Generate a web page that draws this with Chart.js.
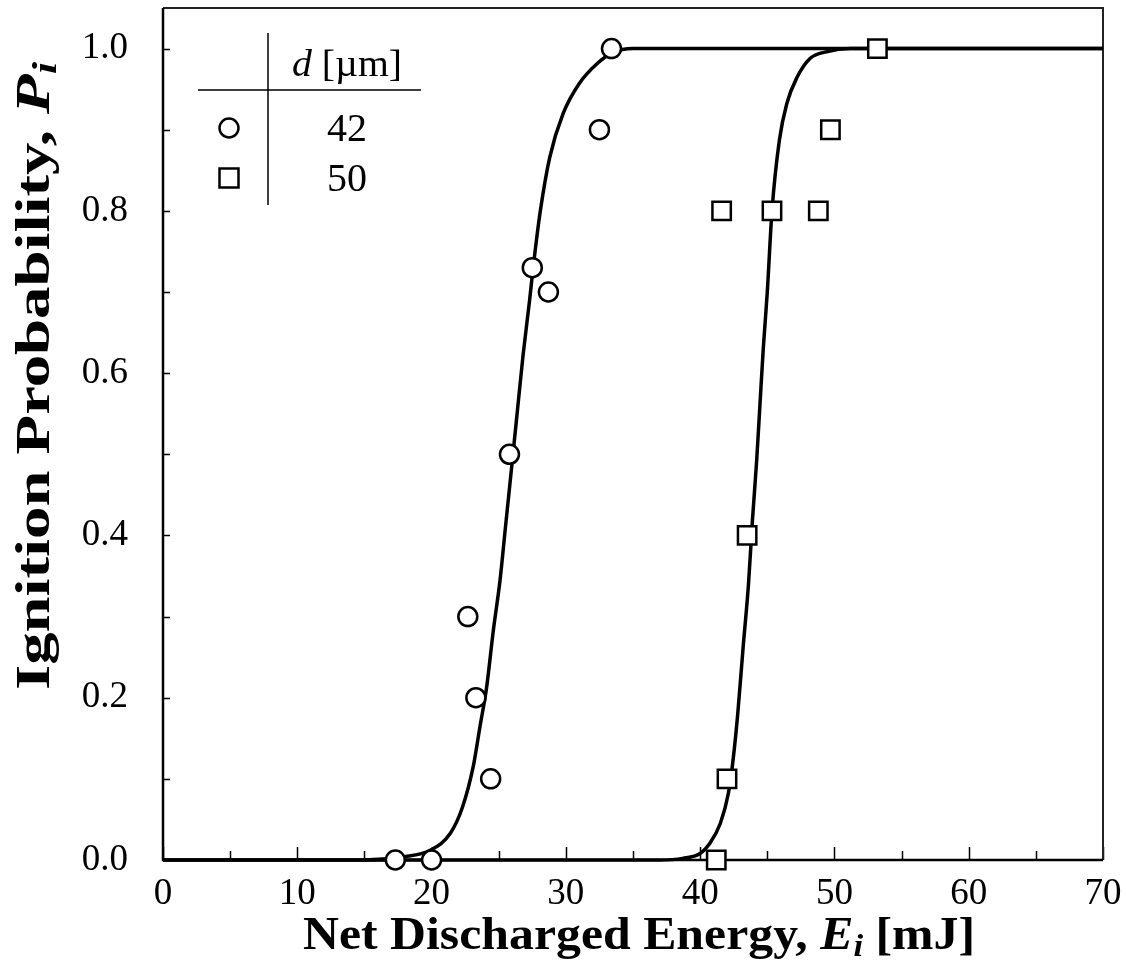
<!DOCTYPE html>
<html>
<head>
<meta charset="utf-8">
<script src="https://cdn.jsdelivr.net/npm/chart.js@4/dist/chart.umd.min.js"></script>
<style>
  html, body { margin: 0; padding: 0; background: #fff; }
  #wrap { width: 1126px; height: 964px; }
</style>
</head>
<body>
<div id="wrap"><canvas id="ignChart" width="1126" height="964"></canvas></div>
<script>
// ----- MEASURED POINTS -----
const e42 = [17.3, 20.0, 22.7, 23.3, 24.4, 25.8, 27.5, 28.7, 32.5, 33.4];
const p42 = [0, 0, 0.3, 0.2, 0.1, 0.5, 0.73, 0.7, 0.9, 1.0];

const e50 = [41.2, 42.0, 43.5, 41.6, 45.35, 48.8, 49.7, 53.2];
const p50 = [0, 0.1, 0.4, 0.8, 0.8, 0.8, 0.9, 1.0];

// ----- FITTED CURVES -----
const fitE42 = [0, 15, 17.9, 19.9, 21.4, 22.3, 23.1, 23.6, 24.1, 24.6, 25.1, 25.5, 26.0, 26.4, 26.8, 27.3, 27.6, 28.1, 28.8, 29.8, 31.0, 32.3, 33.5, 35, 70];
const fitP42 = [0, 0, 0.004, 0.012, 0.033, 0.065, 0.115, 0.164, 0.213, 0.283, 0.345, 0.41, 0.49, 0.555, 0.62, 0.69, 0.735, 0.80, 0.866, 0.92, 0.957, 0.981, 0.995, 1.0, 1.0];

const fitE50 = [0, 37, 38.7, 40.0, 40.7, 41.5, 42.1, 42.45, 42.8, 43.2, 43.6, 43.9, 44.2, 44.45, 44.7, 45.0, 45.35, 45.9, 46.45, 47.2, 48.2, 49.4, 51.2, 70];
const fitP50 = [0, 0, 0.002, 0.008, 0.02, 0.045, 0.082, 0.123, 0.18, 0.262, 0.34, 0.42, 0.49, 0.56, 0.63, 0.70, 0.80, 0.887, 0.932, 0.964, 0.988, 0.996, 1.0, 1.0];

// ----- LEGEND / AXIS TEXT -----
const legendHead = "d";
const legendUnit = " [\u00b5m]";
const legendRows = [
  { label: "42", shape: "circle" },
  { label: "50", shape: "rect" }
];

const SERIF = "'Liberation Serif', 'Times New Roman', serif";

function toXY(xs, ys) {
  return xs.map((x, i) => ({ x: x, y: ys[i] }));
}

// draws a run of text pieces with their own fonts, centred on (cx, cy);
// if width is given the run is stretched horizontally to that width
function drawRich(ctx, parts, cx, cy, width) {
  let total = 0;
  parts.forEach(p => {
    ctx.font = p.font;
    p.w = ctx.measureText(p.text).width;
    total += p.w;
  });
  const sx = width ? width / total : 1;
  ctx.save();
  ctx.translate(cx, cy);
  ctx.scale(sx, 1);
  let x = -total / 2;
  ctx.textBaseline = "alphabetic";
  ctx.textAlign = "left";
  parts.forEach(p => {
    ctx.font = p.font;
    ctx.fillText(p.text, x, p.dy || 0);
    x += p.w;
  });
  ctx.restore();
}

// ----- FRAME, INWARD TICKS, TITLES, TABLE LEGEND -----
const decorPlugin = {
  id: "decor",
  beforeDatasetsDraw(chart) {
    const ctx = chart.ctx;
    const area = chart.chartArea;
    const xs = chart.scales.x;
    const ys = chart.scales.y;

    ctx.save();
    ctx.strokeStyle = "#000";
    ctx.lineWidth = 1.5;

    ys.ticks.forEach(t => {
      const y = Math.round(ys.getPixelForValue(t.value)) + 0.5;
      ctx.beginPath();
      ctx.moveTo(area.left, y);
      ctx.lineTo(area.left + 7, y);
      ctx.stroke();
    });

    xs.ticks.forEach(t => {
      const x = Math.round(xs.getPixelForValue(t.value)) + 0.5;
      const len = t.value % 10 === 0 ? 13 : 9;
      ctx.beginPath();
      ctx.moveTo(x, area.bottom);
      ctx.lineTo(x, area.bottom - len);
      ctx.stroke();
    });

    // top and right border
    ctx.strokeStyle = "#222";
    ctx.lineWidth = 2;
    ctx.beginPath();
    ctx.moveTo(area.left, area.top);
    ctx.lineTo(area.right, area.top);
    ctx.lineTo(area.right, area.bottom);
    ctx.stroke();

    // left and bottom axis lines
    ctx.strokeStyle = "#000";
    ctx.lineWidth = 2.5;
    ctx.beginPath();
    ctx.moveTo(area.left, area.top);
    ctx.lineTo(area.left, area.bottom);
    ctx.lineTo(area.right, area.bottom);
    ctx.stroke();
    ctx.restore();
  },
  afterDraw(chart) {
    const ctx = chart.ctx;
    ctx.save();
    ctx.fillStyle = "#000";

    // x axis title
    drawRich(ctx, [
      { text: "Net Discharged Energy, ", font: "bold 46px " + SERIF },
      { text: "E", font: "italic bold 46px " + SERIF },
      { text: "i", font: "italic bold 32px " + SERIF, dy: 7 },
      { text: " [mJ]", font: "bold 46px " + SERIF }
    ], 639, 949, 672);

    // y axis title
    ctx.save();
    ctx.translate(49, 376);
    ctx.rotate(-Math.PI / 2);
    drawRich(ctx, [
      { text: "Ignition Probability, ", font: "bold 48px " + SERIF },
      { text: "P", font: "italic bold 48px " + SERIF },
      { text: "i", font: "italic bold 33px " + SERIF, dy: 7 }
    ], 0, 0, 628);
    ctx.restore();

    // table style legend
    ctx.strokeStyle = "#000";
    ctx.lineWidth = 1.5;
    ctx.beginPath();
    ctx.moveTo(268, 33);
    ctx.lineTo(268, 205);
    ctx.moveTo(198, 90);
    ctx.lineTo(421, 90);
    ctx.stroke();

    drawRich(ctx, [
      { text: legendHead, font: "italic 38px " + SERIF },
      { text: legendUnit, font: "38px " + SERIF }
    ], 347, 76, 110);

    ctx.lineWidth = 2.5;
    legendRows.forEach((row, i) => {
      const cy = 128 + i * 50;
      ctx.fillStyle = "#fff";
      ctx.beginPath();
      if (row.shape === "circle") {
        ctx.arc(229, cy, 9.5, 0, Math.PI * 2);
      } else {
        ctx.rect(219.5, cy - 9.5, 19, 19);
      }
      ctx.fill();
      ctx.stroke();
      ctx.fillStyle = "#000";
      drawRich(ctx, [{ text: row.label, font: "40px " + SERIF }], 347, cy + 13);
    });
    ctx.restore();
  }
};

const ctx = document.getElementById("ignChart").getContext("2d");

new Chart(ctx, {
  type: "scatter",
  data: {
    datasets: [
      {
        label: "42",
        data: toXY(e42, p42),
        pointStyle: "circle",
        pointRadius: 9.5,
        pointBackgroundColor: "#fff",
        pointBorderColor: "#000",
        pointBorderWidth: 2.5,
        order: 0,
        clip: false
      },
      {
        label: "50",
        data: toXY(e50, p50),
        pointStyle: "rect",
        pointRadius: 13,
        pointBackgroundColor: "#fff",
        pointBorderColor: "#000",
        pointBorderWidth: 2.5,
        order: 0,
        clip: false
      },
      {
        label: "fit 42",
        data: toXY(fitE42, fitP42),
        showLine: true,
        pointRadius: 0,
        borderColor: "#000",
        borderWidth: 3.5,
        cubicInterpolationMode: "monotone",
        order: 1,
        clip: false
      },
      {
        label: "fit 50",
        data: toXY(fitE50, fitP50),
        showLine: true,
        pointRadius: 0,
        borderColor: "#000",
        borderWidth: 3.5,
        cubicInterpolationMode: "monotone",
        order: 1,
        clip: false
      }
    ]
  },
  options: {
    responsive: false,
    animation: false,
    layout: { autoPadding: false, padding: { top: 8, right: 23, left: 0, bottom: 0 } },
    plugins: {
      legend: { display: false },
      tooltip: { enabled: false }
    },
    scales: {
      x: {
        type: "linear",
        min: 0,
        max: 70,
        grid: { display: false, drawTicks: false },
        border: { display: false },
        afterFit: s => {
          s.height = 104;
          s.paddingLeft = 0;
          s.paddingRight = 0;
        },
        ticks: {
          stepSize: 5,
          autoSkip: false,
          maxRotation: 0,
          padding: 12,
          color: "#000",
          font: { family: SERIF, size: 37 },
          callback: v => (v % 10 === 0 ? String(v) : "")
        }
      },
      y: {
        type: "linear",
        min: 0,
        max: 1.05,
        grid: { display: false, drawTicks: false },
        border: { display: false },
        afterFit: s => {
          s.width = 163;
          s.paddingTop = 0;
          s.paddingBottom = 0;
        },
        ticks: {
          stepSize: 0.1,
          includeBounds: false,
          autoSkip: false,
          padding: 35,
          color: "#000",
          font: { family: SERIF, size: 37 },
          callback: v => (Math.round(v * 10) % 2 === 0 ? v.toFixed(1) : "")
        }
      }
    }
  },
  plugins: [decorPlugin]
});
</script>
</body>
</html>
